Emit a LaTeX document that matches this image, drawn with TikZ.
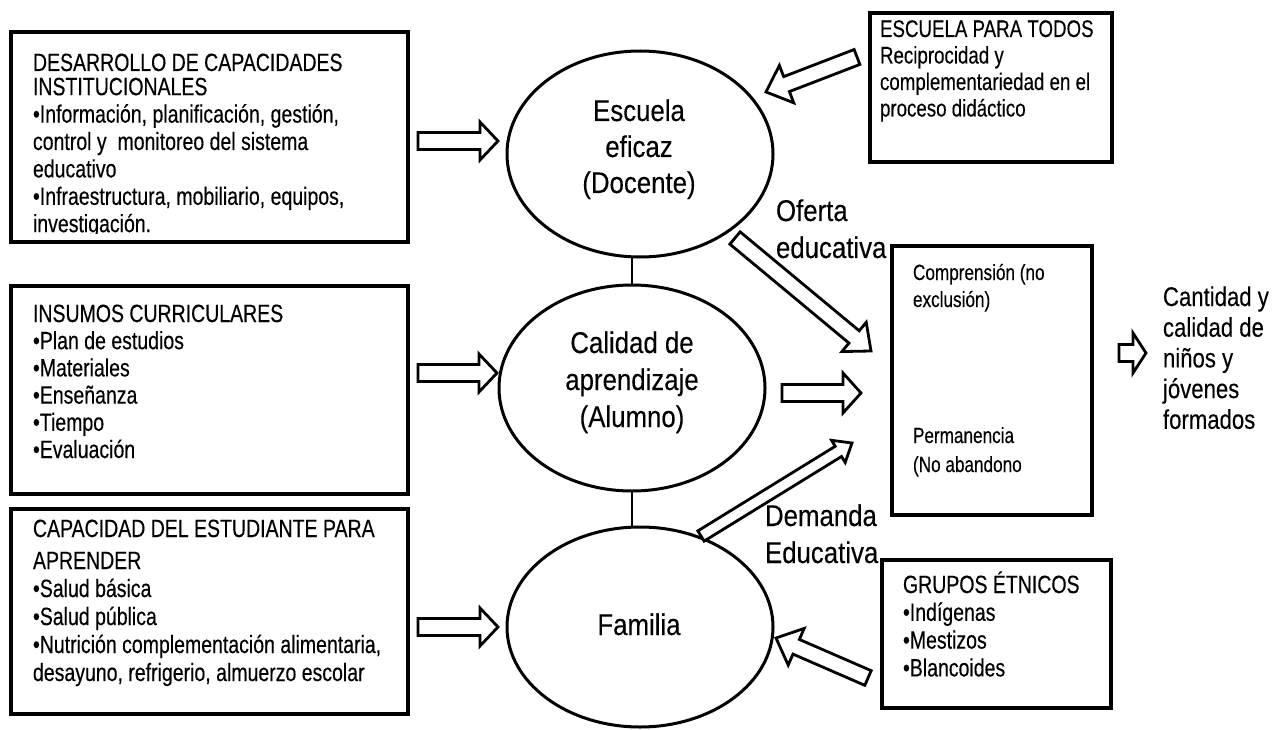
\documentclass[tikz,border=0pt]{standalone}
\usepackage{fontspec}
\setmainfont{Liberation Sans}[FakeStretch=0.82]
\newfontfamily\boxfont{Liberation Sans}[FakeStretch=0.78,FakeBold=0.3]
\newfontfamily\ovalfont{Liberation Sans}[FakeStretch=0.86,FakeBold=0.2]
\newfontfamily\outfont{Liberation Sans}[FakeStretch=0.82,FakeBold=0.2]
\usetikzlibrary{calc,shapes.geometric}

% block arrow: tail, tip, shaft half width, head half width, head length
\newcommand\blockarrow[5]{%
  \coordinate (ah) at ($(#2)!#5!(#1)$);
  \draw[barrow] ($(#1)!#3!90:(#2)$) -- ($(ah)!#3!90:(#2)$) -- ($(ah)!#4!90:(#2)$)
    -- (#2) -- ($(ah)!#4!-90:(#2)$) -- ($(ah)!#3!-90:(#2)$) -- ($(#1)!#3!-90:(#2)$) -- cycle;
}

\begin{document}
\begin{tikzpicture}[x=1pt,y=-1pt,
  panel/.style={draw, line width=3.2pt, inner sep=0pt, outer sep=0pt, anchor=north west},
  oval/.style={draw, ellipse, line width=3pt, fill=white, inner sep=0pt, outer sep=0pt},
  link/.style={line width=1.6pt},
  barrow/.style={draw, fill=white, line width=2.8pt, line join=miter},
  txt/.style={anchor=base west, inner sep=0pt, outer sep=0pt},
  mid/.style={anchor=base, inner sep=0pt, outer sep=0pt},
]
\useasboundingbox (0,0) rectangle (1282,730);

% ---- boxes on the left ----
\node[panel, minimum width=397pt, minimum height=210pt] (b1) at (11,32) {};
\node[panel, minimum width=397pt, minimum height=208pt] (b2) at (11,286) {};
\node[panel, minimum width=397pt, minimum height=205pt] (b3) at (11,509) {};

\begin{scope}
  \clip (11,32) rectangle (408,233);
  \node[txt] (b1t) at (33,71) {\parbox[t]{370pt}{\raggedright\boxfont\fontsize{25}{27.4}\selectfont
    DESARROLLO DE CAPACIDADES\\[-3.2pt]
    INSTITUCIONALES\\
    •Información, planificación, gestión,\\
    control y \ monitoreo del sistema\\
    educativo\\
    •Infraestructura, mobiliario, equipos,\\
    investigación.}};
\end{scope}

\node[txt] (b2t) at (33,322) {\parbox[t]{370pt}{\raggedright\boxfont\fontsize{25}{27.2}\selectfont
  INSUMOS CURRICULARES\\
  •Plan de estudios\\
  •Materiales\\
  •Enseñanza\\
  •Tiempo\\
  •Evaluación}};

\node[txt] (b3t) at (33,537) {\parbox[t]{370pt}{\raggedright\boxfont\fontsize{25}{28}\selectfont
  CAPACIDAD DEL ESTUDIANTE PARA\\[4pt]
  APRENDER\\
  •Salud básica\\
  •Salud pública\\
  •Nutrición complementación alimentaria,\\
  desayuno, refrigerio, almuerzo escolar}};

% ---- boxes on the right ----
\node[panel, minimum width=242pt, minimum height=149pt] (todos) at (870,13) {};
\node[txt] (todost) at (880,37) {\parbox[t]{230pt}{\raggedright\boxfont\fontsize{24}{26.5}\selectfont
  ESCUELA PARA TODOS\\
  Reciprocidad y\\
  complementariedad en el\\
  proceso didáctico}};

\node[panel, minimum width=229pt, minimum height=148pt] (grupos) at (882,560) {};
\node[txt] (grupost) at (903,593) {\parbox[t]{200pt}{\raggedright\boxfont\fontsize{25}{27.8}\selectfont
  GRUPOS ÉTNICOS\\
  •Indígenas\\
  •Mestizos\\
  •Blancoides}};

\node[panel, minimum width=200pt, minimum height=269pt] (big) at (892,246) {};
\node[txt] (bigt1) at (913,280) {\parbox[t]{170pt}{\raggedright\boxfont\fontsize{22}{27}\selectfont
  Comprensión (no\\
  exclusión)}};
\node[txt] (bigt2) at (913,443) {\parbox[t]{170pt}{\raggedright\boxfont\fontsize{22}{29}\selectfont
  Permanencia\\
  (No abandono}};

% ---- central ellipses ----
\node[oval, minimum width=266pt, minimum height=206pt] (e1) at (640,154) {};
\node[oval, minimum width=266pt, minimum height=206pt] (e2) at (632,388) {};
\node[oval, minimum width=266pt, minimum height=200pt] (e3) at (640,627) {};

\node[mid] (e1t) at (639,121) {\parbox[t]{220pt}{\centering\ovalfont\fontsize{30}{36}\selectfont
  Escuela\\eficaz\\(Docente)}};
\node[mid] (e2t) at (632,353) {\parbox[t]{220pt}{\centering\ovalfont\fontsize{30}{37}\selectfont
  Calidad de\\aprendizaje\\(Alumno)}};
\node[mid] (e3t) at (639,635) {\ovalfont\fontsize{30}{36}\selectfont Familia};

\draw[link] (e2.north) -- (e2.north |- e1.south);
\draw[link] (e2.south) -- (e2.south |- e3.north);

% ---- labels ----
\node[txt] (oferta) at (776,221) {\parbox[t]{150pt}{\raggedright\ovalfont\fontsize{30}{37}\selectfont
  Oferta\\educativa}};
\node[txt] (demanda) at (765,526) {\parbox[t]{150pt}{\raggedright\ovalfont\fontsize{30}{37}\selectfont
  Demanda\\Educativa}};
\node[txt] (result) at (1163,306) {\parbox[t]{130pt}{\raggedright\outfont\fontsize{27}{30.7}\selectfont
  Cantidad y\\calidad de\\niños y\\jóvenes\\formados}};

% ---- arrow end points ----
\coordinate (a1s) at (418,141);  \coordinate (a1e) at (498,141);
\coordinate (a2s) at (418,373);  \coordinate (a2e) at (497,373);
\coordinate (a3s) at (418,627);  \coordinate (a3e) at (498,627);
\coordinate (a4s) at (857,57);   \coordinate (a4e) at (766,92);
\coordinate (a5s) at (735,238);  \coordinate (a5e) at (871,351);
\coordinate (a6s) at (782,393);  \coordinate (a6e) at (861,393);
\coordinate (a7s) at (701,536);  \coordinate (a7e) at (852,443);
\coordinate (a8s) at (868,678);  \coordinate (a8e) at (776,638);
\coordinate (a9s) at (1119,353); \coordinate (a9e) at (1146,353);

\blockarrow{a1s}{a1e}{8.5pt}{19pt}{18pt}
\blockarrow{a2s}{a2e}{8.5pt}{19pt}{18pt}
\blockarrow{a3s}{a3e}{8.5pt}{19pt}{18pt}
\blockarrow{a4s}{a4e}{8pt}{20pt}{22pt}
\blockarrow{a5s}{a5e}{8pt}{19pt}{22pt}
\blockarrow{a6s}{a6e}{8.5pt}{20pt}{18pt}
\blockarrow{a7s}{a7e}{6pt}{13pt}{16pt}
\blockarrow{a8s}{a8e}{8pt}{20pt}{22pt}
\blockarrow{a9s}{a9e}{8.5pt}{20pt}{13pt}
\end{tikzpicture}
\end{document}
